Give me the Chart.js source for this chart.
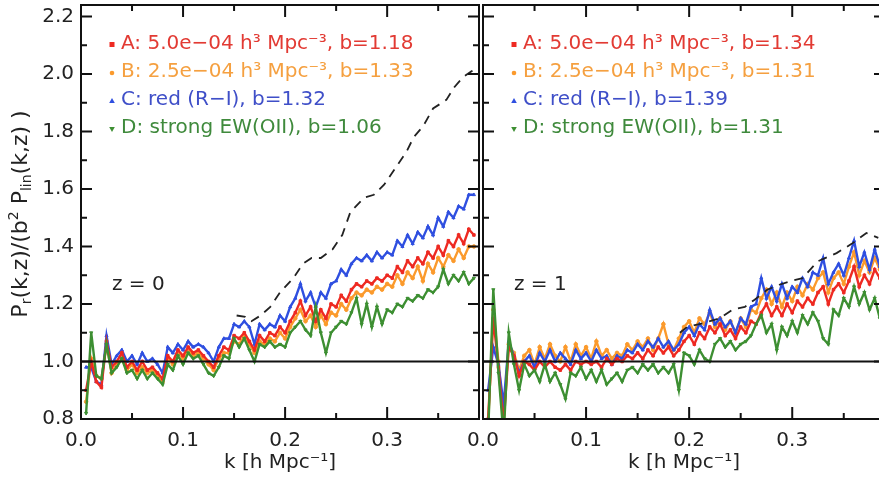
<!DOCTYPE html>
<html><head><meta charset="utf-8">
<script src="https://cdn.jsdelivr.net/npm/chart.js@4.4.0/dist/chart.umd.min.js"></script>
<style>
html,body{margin:0;padding:0;background:#fff;overflow:hidden;width:879px;height:487px;}
#wrap{position:relative;width:879px;height:487px;overflow:hidden;background:#fff;}
canvas{position:absolute;top:0;}
</style></head><body>
<div id="wrap">
<canvas id="c0" width="484" height="487" style="left:0px"></canvas>
<canvas id="c1" width="450" height="487" style="left:440px"></canvas>
</div>
<script>
// ---------------- DATA ----------------
const kValues = [0.005,0.010,0.015,0.020,0.025,0.030,0.035,0.040,0.045,0.050,
 0.055,0.060,0.065,0.070,0.075,0.080,0.085,0.090,0.095,0.100,
 0.105,0.110,0.115,0.120,0.125,0.130,0.135,0.140,0.145,0.150,
 0.155,0.160,0.165,0.170,0.175,0.180,0.185,0.190,0.195,0.200,
 0.205,0.210,0.215,0.220,0.225,0.230,0.235,0.240,0.245,0.250,
 0.255,0.260,0.265,0.270,0.275,0.280,0.285,0.290,0.295,0.300,
 0.305,0.310,0.315,0.320,0.325,0.330,0.335,0.340,0.345,0.350,
 0.355,0.360,0.365,0.370,0.375,0.380,0.385];

// z = 0 panel
const z0A = [0.90,1.00,0.93,0.91,1.07,0.98,1.00,1.03,0.98,1.00,
 0.97,1.00,0.97,0.98,0.96,0.94,1.02,1.00,1.04,1.02,
 1.05,1.03,1.04,1.02,1.00,0.98,1.02,1.05,1.04,1.09,
 1.08,1.10,1.07,1.04,1.09,1.07,1.10,1.09,1.12,1.10,
 1.14,1.17,1.21,1.16,1.19,1.14,1.18,1.15,1.20,1.19,
 1.23,1.21,1.25,1.27,1.26,1.28,1.27,1.29,1.28,1.30,
 1.29,1.33,1.31,1.35,1.33,1.36,1.34,1.38,1.36,1.40,
 1.37,1.42,1.40,1.44,1.41,1.46,1.44];
const z0B = [0.86,1.01,0.95,0.94,1.06,0.96,0.99,1.01,0.97,0.99,
 0.96,0.98,0.96,0.97,0.95,0.93,1.01,0.99,1.03,1.01,
 1.04,1.02,1.03,1.01,0.99,0.97,1.01,1.03,1.03,1.07,
 1.06,1.09,1.06,1.03,1.07,1.06,1.08,1.07,1.10,1.08,
 1.12,1.15,1.18,1.14,1.16,1.12,1.16,1.13,1.17,1.16,
 1.20,1.18,1.22,1.24,1.23,1.25,1.24,1.26,1.25,1.27,
 1.26,1.30,1.27,1.31,1.29,1.33,1.28,1.34,1.31,1.36,
 1.33,1.37,1.35,1.39,1.36,1.40,1.40];
const z0C = [0.98,0.98,0.93,0.92,1.09,0.99,1.02,1.04,1.00,1.02,
 0.99,1.03,1.00,1.01,0.99,0.96,1.05,1.03,1.06,1.04,
 1.07,1.05,1.06,1.05,1.03,1.00,1.05,1.08,1.08,1.13,
 1.12,1.14,1.12,1.06,1.13,1.11,1.13,1.12,1.16,1.14,
 1.19,1.22,1.27,1.21,1.24,1.19,1.24,1.22,1.27,1.28,
 1.32,1.30,1.34,1.36,1.35,1.37,1.35,1.38,1.36,1.38,
 1.37,1.42,1.40,1.44,1.41,1.45,1.43,1.47,1.44,1.50,
 1.47,1.52,1.50,1.54,1.53,1.58,1.58];
const z0D = [0.82,1.10,0.95,0.94,1.06,0.96,0.98,1.01,0.96,0.97,
 0.94,0.97,0.94,0.96,0.94,0.92,0.99,0.97,1.02,0.99,
 1.03,1.01,1.02,0.99,0.96,0.95,0.98,1.02,1.01,1.08,
 1.05,1.08,1.04,1.00,1.06,1.05,1.07,1.05,1.06,1.05,
 1.10,1.12,1.14,1.11,1.09,1.19,1.10,1.03,1.10,1.12,
 1.14,1.13,1.17,1.22,1.13,1.20,1.12,1.19,1.13,1.18,
 1.17,1.20,1.19,1.22,1.21,1.23,1.22,1.25,1.24,1.26,
 1.32,1.27,1.30,1.28,1.31,1.27,1.29];
const dashK0 = [0.1525,0.161,0.167,0.176,0.1855,0.195,0.208,0.2175,0.226,0.235,0.2465,0.256,0.264,0.2775,0.287,0.297,0.3075,0.319,0.326,0.3355,0.345,0.358,0.366,0.3745,0.383,0.387];
const dashV0 = [1.16,1.155,1.14,1.16,1.19,1.24,1.29,1.34,1.36,1.36,1.39,1.44,1.52,1.57,1.58,1.615,1.67,1.73,1.78,1.82,1.88,1.91,1.955,1.99,2.01,2.03];

// z = 1 panel
const z1A = [0.80,1.15,0.98,0.78,1.05,1.02,0.95,1.00,0.99,0.97,
 1.00,0.98,1.00,0.98,0.97,0.99,0.97,1.00,0.99,1.00,
 0.99,1.00,0.98,1.01,0.99,1.01,1.00,1.02,1.01,1.03,
 1.01,1.04,1.02,1.05,1.03,1.05,1.02,1.04,1.07,1.09,
 1.06,1.10,1.08,1.12,1.10,1.13,1.09,1.11,1.08,1.12,
 1.10,1.14,1.13,1.17,1.20,1.16,1.19,1.16,1.20,1.17,
 1.21,1.19,1.22,1.20,1.24,1.26,1.20,1.25,1.27,1.24,
 1.28,1.33,1.26,1.30,1.27,1.32,1.29];
const z1B = [0.78,1.18,1.00,0.80,1.06,1.03,0.97,1.02,1.04,0.99,
 1.05,1.01,1.06,1.02,1.00,1.05,1.00,1.06,1.02,1.05,
 1.01,1.07,1.02,1.04,1.01,1.03,1.02,1.06,1.04,1.07,
 1.05,1.08,1.04,1.08,1.13,1.06,1.04,1.08,1.12,1.14,
 1.10,1.15,1.13,1.17,1.12,1.15,1.11,1.14,1.10,1.15,
 1.12,1.18,1.17,1.22,1.25,1.20,1.24,1.19,1.24,1.21,
 1.26,1.23,1.27,1.25,1.29,1.31,1.24,1.29,1.31,1.27,
 1.33,1.38,1.30,1.35,1.31,1.36,1.32];
const z1C = [0.90,1.05,0.99,0.85,1.07,1.02,0.96,1.00,1.02,0.98,
 1.03,1.00,1.04,1.00,1.03,1.01,0.99,1.04,1.01,1.03,
 1.00,1.04,1.01,1.02,0.99,1.02,1.01,1.04,1.03,1.06,
 1.04,1.07,1.05,1.08,1.05,1.07,1.04,1.06,1.10,1.12,
 1.09,1.13,1.11,1.18,1.13,1.15,1.12,1.14,1.10,1.15,
 1.13,1.19,1.20,1.29,1.22,1.26,1.21,1.27,1.22,1.26,
 1.24,1.29,1.26,1.31,1.30,1.36,1.27,1.31,1.34,1.30,
 1.36,1.42,1.33,1.38,1.32,1.39,1.33];
const z1D = [0.75,1.25,0.96,0.74,1.10,0.99,0.90,0.99,0.95,0.97,
 0.93,0.99,0.93,0.96,0.92,0.87,0.96,0.95,0.98,0.94,
 0.97,0.93,0.97,0.92,0.94,0.96,0.93,0.97,0.98,0.96,
 0.99,0.97,0.99,0.96,0.98,0.96,0.99,0.90,1.03,1.02,
 0.99,1.04,1.01,1.00,1.06,1.08,1.05,1.07,1.04,1.06,
 1.07,1.09,1.13,1.16,1.10,1.13,1.04,1.12,1.09,1.14,
 1.10,1.16,1.13,1.17,1.14,1.08,1.06,1.18,1.16,1.22,
 1.19,1.26,1.20,1.24,1.18,1.22,1.15];
const dashK1 = [0.191,0.198,0.21,0.2295,0.242,0.254,0.2635,0.276,0.2875,0.299,0.31,0.3245,0.343,0.358,0.372,0.3835];
const dashV1 = [1.10,1.12,1.13,1.15,1.18,1.19,1.215,1.25,1.267,1.28,1.29,1.348,1.377,1.41,1.447,1.43];

const unityK = [0, 0.39];
const unityV = [1.0, 1.0];

const xTickValues = [0.0, 0.1, 0.2, 0.3];
const yTickValues = [0.8, 1.0, 1.2, 1.4, 1.6, 1.8, 2.0, 2.2];
const xMinorTicks = [0.05, 0.15, 0.25, 0.35];
const yMinorTicks = [0.9, 1.1, 1.3, 1.5, 1.7, 1.9, 2.1];

const seriesNames = ['A', 'B', 'C', 'D'];
const legendLeft = ['A: 5.0e\u221204 h\u00b3 Mpc\u207b\u00b3, b=1.18',
                    'B: 2.5e\u221204 h\u00b3 Mpc\u207b\u00b3, b=1.33',
                    'C: red (R\u2212I), b=1.32',
                    'D: strong EW(OII), b=1.06'];
const legendRight = ['A: 5.0e\u221204 h\u00b3 Mpc\u207b\u00b3, b=1.34',
                     'B: 2.5e\u221204 h\u00b3 Mpc\u207b\u00b3, b=1.31',
                     'C: red (R\u2212I), b=1.39',
                     'D: strong EW(OII), b=1.31'];
const panelLabels = ['z = 0', 'z = 1'];

// ---------------- STYLE ----------------
const FONT = "'DejaVu Sans', 'Liberation Sans', sans-serif";
const lineColors = ['#ee2a22', '#fb9a2c', '#2f4fe0', '#3d8f32'];
const textColors = ['#e23a33', '#f5a040', '#3f4fc8', '#3f8a3c'];
const pointStyles = ['rect', 'circle', 'triangle', 'triangle'];
const pointRots = [0, 0, 0, 180];
const drawOrder = [3, 5, 4, 2];

function pts(ks, vs) { return ks.map((k, i) => ({ x: k, y: vs[i] })); }

function makeDatasets(series, dK, dV) {
  const ds = series.map((vals, i) => ({
    label: seriesNames[i],
    data: pts(kValues, vals),
    borderColor: lineColors[i],
    backgroundColor: lineColors[i],
    pointBackgroundColor: lineColors[i],
    pointBorderColor: lineColors[i],
    pointStyle: pointStyles[i],
    pointRotation: pointRots[i],
    pointRadius: 1.8,
    pointBorderWidth: 1,
    borderWidth: 2.4,
    tension: 0,
    order: drawOrder[i]
  }));
  ds.push({ label: 'model', data: pts(dK, dV), borderColor: '#222', borderWidth: 1.8,
            borderDash: [9, 7], pointRadius: 0, tension: 0, order: 0 });
  ds.push({ label: 'unity', data: pts(unityK, unityV), borderColor: '#111', borderWidth: 1.8,
            pointRadius: 0, tension: 0, order: 1 });
  return ds;
}

function framePlugin() {
  return {
    id: 'frame',
    afterDatasetsDraw(chart) {
      const { ctx, chartArea: a, scales: { x, y } } = chart;
      ctx.save();
      ctx.strokeStyle = '#111';
      ctx.lineWidth = 2;
      ctx.strokeRect(a.left, a.top, a.right - a.left, a.bottom - a.top);
      ctx.beginPath();
      const xt = (vals, len) => vals.forEach(v => {
        const px = x.getPixelForValue(v);
        ctx.moveTo(px, a.bottom); ctx.lineTo(px, a.bottom - len);
        ctx.moveTo(px, a.top); ctx.lineTo(px, a.top + len);
      });
      const yt = (vals, len) => vals.forEach(v => {
        const py = y.getPixelForValue(v);
        ctx.moveTo(a.left, py); ctx.lineTo(a.left + len, py);
        ctx.moveTo(a.right, py); ctx.lineTo(a.right - len, py);
      });
      xt(xTickValues, 12); xt(xMinorTicks, 6);
      yt(yTickValues, 11); yt(yMinorTicks, 6);
      ctx.stroke();
      ctx.restore();
    }
  };
}

function legendPlugin(labels, panelText) {
  return {
    id: 'innerLegend',
    afterDraw(chart) {
      const { ctx, chartArea: a } = chart;
      ctx.save();
      ctx.font = '20px ' + FONT;
      ctx.textBaseline = 'middle';
      labels.forEach((t, i) => {
        const yy = a.top + 39 + i * 28;
        const mx = a.left + 31;
        ctx.fillStyle = lineColors[i];
        ctx.beginPath();
        if (i === 0) ctx.rect(mx - 2.5, yy - 2, 5, 5);
        else if (i === 1) ctx.arc(mx, yy + 1, 2.3, 0, Math.PI * 2);
        else if (i === 2) { ctx.moveTo(mx, yy - 2); ctx.lineTo(mx + 2.8, yy + 3); ctx.lineTo(mx - 2.8, yy + 3); ctx.closePath(); }
        else { ctx.moveTo(mx, yy + 4); ctx.lineTo(mx + 2.8, yy - 1); ctx.lineTo(mx - 2.8, yy - 1); ctx.closePath(); }
        ctx.fill();
        ctx.fillStyle = textColors[i];
        ctx.fillText(t, a.left + 40, yy);
      });
      ctx.fillStyle = '#222';
      ctx.fillText(panelText, a.left + 31, a.top + 280);
      ctx.restore();
    }
  };
}

const yTitlePlugin = {
  id: 'yTitle',
  afterDraw(chart) {
    const { ctx, chartArea: a } = chart;
    const parts = [['P', 22, 0], ['r', 14, 4], ['(k,z)/(b', 22, 0], ['2', 14, -9],
                   [' P', 22, 0], ['lin', 14, 4], ['(k,z) )', 22, 0]];
    ctx.save();
    let total = 0;
    parts.forEach(p => { ctx.font = p[1] + 'px ' + FONT; total += ctx.measureText(p[0]).width; });
    ctx.translate(22, (a.top + a.bottom) / 2 + 2);
    ctx.rotate(-Math.PI / 2);
    ctx.fillStyle = '#222';
    ctx.textBaseline = 'alphabetic';
    let cx = -total / 2;
    parts.forEach(p => {
      ctx.font = p[1] + 'px ' + FONT;
      ctx.fillText(p[0], cx, 5 + p[2]);
      cx += ctx.measureText(p[0]).width;
    });
    ctx.restore();
  }
};

function xScale() {
  return {
    type: 'linear', min: 0, max: 0.39,
    afterBuildTicks: s => { s.ticks = xTickValues.map(v => ({ value: v })); },
    ticks: { callback: v => Number(v).toFixed(1), font: { family: FONT, size: 20 }, color: '#222',
             padding: 10, maxRotation: 0, autoSkip: false },
    grid: { display: false, drawTicks: false },
    border: { display: false },
    title: { display: true, text: 'k [h Mpc\u207b\u00b9]', font: { family: FONT, size: 20 }, color: '#222',
             padding: { top: 0, bottom: 12 } },
    afterFit: s => { s.height = 68; s.paddingLeft = 0; s.paddingRight = 0; }
  };
}

function makeChart(id, series, dK, dV, labels, panelText, isLeft) {
  const plugins = [framePlugin(), legendPlugin(labels, panelText)];
  if (isLeft) plugins.push(yTitlePlugin);
  return new Chart(document.getElementById(id), {
    type: 'line',
    data: { datasets: makeDatasets(series, dK, dV) },
    options: {
      responsive: false,
      animation: false,
      layout: { padding: isLeft ? { top: 5, right: 1, bottom: 0, left: 0 } : { top: 5, right: 4, bottom: 0, left: 43 } },
      plugins: { legend: { display: false }, tooltip: { enabled: false } },
      scales: {
        x: xScale(),
        y: isLeft ? {
          min: 0.8, max: 2.24,
          afterBuildTicks: s => { s.ticks = yTickValues.map(v => ({ value: v })); },
          ticks: { callback: v => Number(v).toFixed(1), font: { family: FONT, size: 20 }, color: '#222', padding: 7 },
          grid: { display: false, drawTicks: false },
          border: { display: false },
          afterFit: s => { s.width = 81; s.paddingTop = 0; s.paddingBottom = 0; }
        } : { display: false, min: 0.8, max: 2.24 }
      }
    },
    plugins: plugins
  });
}

makeChart('c0', [z0A, z0B, z0C, z0D], dashK0, dashV0, legendLeft, panelLabels[0], true);
makeChart('c1', [z1A, z1B, z1C, z1D], dashK1, dashV1, legendRight, panelLabels[1], false);
</script>
</body></html>
